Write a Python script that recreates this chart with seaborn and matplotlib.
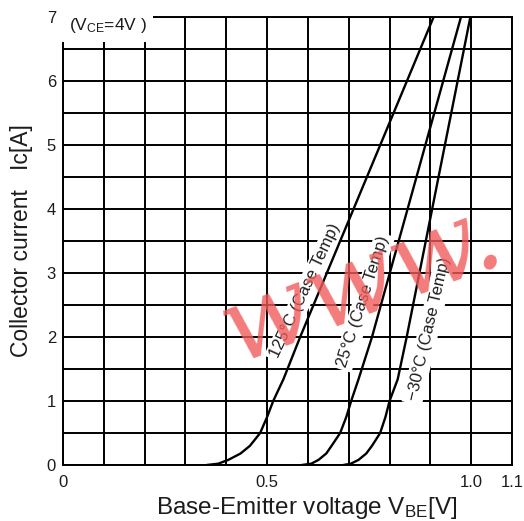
import pandas as pd
import numpy as np
import matplotlib
matplotlib.use("Agg")
import matplotlib.pyplot as plt
import seaborn as sns

# ------------------ DATA ------------------
# Ic [A] points
IC_POINTS = [0, 0.02, 0.08, 0.18, 0.3, 0.5, 0.75, 1.0, 1.34, 2.0, 7.0]
VBE_125C = [0.352, 0.380, 0.405, 0.435, 0.458, 0.483, 0.500, 0.515, 0.540, 0.581, 0.908]
VBE_25C = [0.585, 0.608, 0.626, 0.645, 0.658, 0.679, 0.694, 0.706, 0.724, 0.757, 0.975]
VBE_M30C = [0.687, 0.705, 0.724, 0.743, 0.757, 0.777, 0.790, 0.800, 0.820, 0.842, 0.998]

CURVE_NAMES = ["125°C (Case Temp)", "25°C (Case Temp)", "−30°C (Case Temp)"]
X_TICKS = [0, 0.5, 1.0, 1.1]
X_TICK_LABELS = ["0", "0.5", "1.0", "1.1"]
Y_TICKS = [0, 1, 2, 3, 4, 5, 6, 7]

# label anchor (Vbe, Ic) and angle for each curve name
LABEL_POS = [(0.594, 2.72, 65), (0.736, 2.55, 72), (0.896, 2.12, 77)]

# ------------------ STYLE ------------------
sns.set_theme(style="white")
plt.rcParams["font.family"] = ["Liberation Sans", "DejaVu Sans"]
plt.rcParams["mathtext.fontset"] = "custom"
plt.rcParams["mathtext.rm"] = "Liberation Sans"
plt.rcParams["mathtext.it"] = "Liberation Sans"
TXT = "#1c1c1c"

df = pd.concat([
    pd.DataFrame({"vbe": VBE_125C, "ic": IC_POINTS, "temp": CURVE_NAMES[0]}),
    pd.DataFrame({"vbe": VBE_25C, "ic": IC_POINTS, "temp": CURVE_NAMES[1]}),
    pd.DataFrame({"vbe": VBE_M30C, "ic": IC_POINTS, "temp": CURVE_NAMES[2]}),
])

fig = plt.figure(figsize=(5.24, 5.21), dpi=100)
ax = fig.add_axes([63 / 524, 56 / 521, 449 / 524, 448 / 521])

sns.lineplot(data=df, x="vbe", y="ic", hue="temp", palette=["black"] * 3,
             sort=False, estimator=None, legend=False, linewidth=1.7, ax=ax, zorder=5)

ax.set_xlim(0, 1.1)
ax.set_ylim(0, 7)
ax.set_xticks(X_TICKS)
ax.set_xticklabels(X_TICK_LABELS)
ax.set_xticks(np.arange(0, 1.11, 0.1), minor=True)
ax.set_yticks(Y_TICKS)
ax.set_yticks(np.arange(0, 7.01, 0.5), minor=True)
ax.tick_params(which="both", length=0)
ax.tick_params(axis="x", pad=7, labelsize=12, labelcolor=TXT)
ax.tick_params(axis="y", pad=5, labelsize=12, labelcolor=TXT)
ax.grid(True, which="both", color="black", linewidth=1.4)
ax.set_axisbelow(True)
for s in ax.spines.values():
    s.set_color("black")
    s.set_linewidth(1.4)

ax.set_xlabel("Base-Emitter voltage V$_{\\mathrm{BE}}$[V]", fontsize=17.5, color=TXT)
ax.xaxis.set_label_coords(0.543, -0.068)
ax.set_ylabel("Collector current   Ic[A]", fontsize=16.5, color=TXT)
ax.yaxis.set_label_coords(-0.066, 0.5)

# condition box
ax.text(0.014, 6.87, "(V$_{\\mathrm{CE}}$=4V )", fontsize=12.5, color=TXT, va="center",
        bbox=dict(facecolor="white", edgecolor="none", pad=5), zorder=3)

# curve labels
for name, (x, y, rot) in zip(CURVE_NAMES, LABEL_POS):
    ax.text(x, y, name, rotation=rot, rotation_mode="anchor", ha="center", va="center",
            fontsize=12, color=TXT, zorder=4,
            bbox=dict(facecolor="white", edgecolor="none", pad=2))

# watermark
fig.text(0.69, 0.455, "www.", fontsize=76, color="#f05a5a", alpha=0.8, rotation=21,
         family="DejaVu Serif", style="italic", ha="center", va="center", zorder=10)

fig.savefig("out.png", dpi=100)
